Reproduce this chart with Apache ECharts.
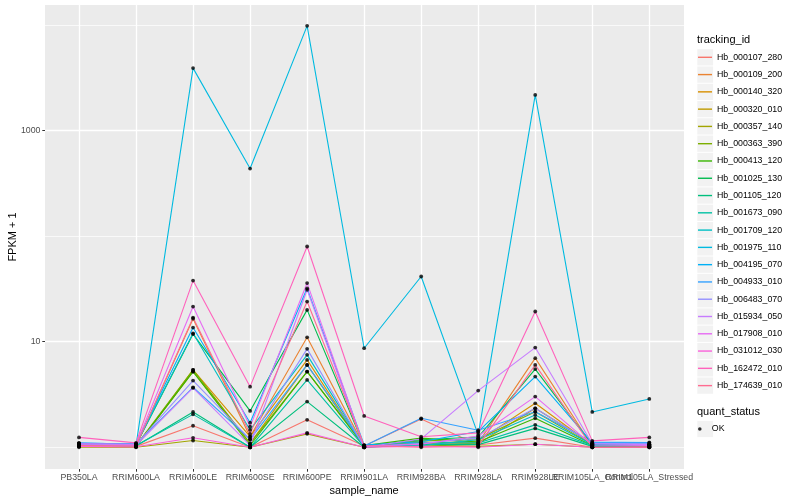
<!DOCTYPE html>
<html><head><meta charset="utf-8">
<script src="https://cdn.jsdelivr.net/npm/echarts@6/dist/echarts.min.js"></script>
<style>html,body{margin:0;padding:0;background:#fff}#c{width:800px;height:500px}</style>
</head><body><div id="c"></div>
<script>
// ---- data (FPKM + 1) ----
const categories = ['PB350LA','RRIM600LA','RRIM600LE','RRIM600SE','RRIM600PE','RRIM901LA','RRIM928BA','RRIM928LA','RRIM928LE','RRIM105LA_Control','RRIM105LA_Stressed'];
const Hb_000107_280 = [1.03, 1.02, 1.60, 1.00, 1.82, 1.03, 1.85, 1.05, 1.22, 1.00, 1.00];
const Hb_000109_200 = [1.05, 1.03, 16.5, 1.26, 11.0, 1.02, 1.10, 1.10, 6.98, 1.03, 1.02];
const Hb_000140_320 = [1.02, 1.01, 5.41, 1.26, 6.72, 1.00, 1.08, 1.15, 2.61, 1.05, 1.03];
const Hb_000320_010 = [1.04, 1.02, 5.21, 1.09, 6.03, 1.01, 1.12, 1.08, 2.34, 1.08, 1.06];
const Hb_000357_140 = [1.00, 1.00, 1.16, 1.00, 1.34, 1.00, 1.05, 1.02, 1.07, 1.00, 1.00];
const Hb_000363_390 = [1.06, 1.04, 5.41, 1.09, 5.21, 1.02, 1.15, 1.20, 2.17, 1.06, 1.05];
const Hb_000413_120 = [1.03, 1.02, 5.21, 1.04, 5.21, 1.04, 1.22, 1.12, 1.88, 1.04, 1.04];
const Hb_001025_130 = [1.08, 1.05, 11.8, 2.21, 20.0, 1.03, 1.18, 1.25, 5.50, 1.05, 1.03];
const Hb_001105_120 = [1.04, 1.03, 2.16, 1.00, 2.71, 1.00, 1.06, 1.06, 1.51, 1.02, 1.02];
const Hb_001673_090 = [1.06, 1.04, 2.05, 1.00, 4.34, 1.01, 1.10, 1.10, 1.63, 1.04, 1.05];
const Hb_001709_120 = [1.07, 1.06, 12.0, 1.46, 7.50, 1.02, 1.04, 1.18, 2.02, 1.06, 1.07];
const Hb_001975_110 = [1.08, 1.05, 3894, 436, 9790, 8.67, 41.4, 1.31, 2170, 2.16, 2.87];
const Hb_004195_070 = [1.09, 1.08, 13.6, 1.71, 32.0, 1.05, 1.13, 1.41, 4.67, 1.10, 1.10];
const Hb_004933_010 = [1.10, 1.07, 3.70, 1.19, 6.03, 1.03, 1.88, 1.45, 2.17, 1.12, 1.11];
const Hb_006483_070 = [1.07, 1.06, 4.28, 1.19, 8.55, 1.01, 1.09, 1.22, 2.34, 1.09, 1.08];
const Hb_015934_050 = [1.05, 1.04, 3.65, 1.04, 31.0, 1.00, 1.20, 3.44, 8.79, 1.08, 1.06];
const Hb_017908_010 = [1.08, 1.07, 21.5, 1.57, 35.9, 1.02, 1.07, 1.28, 3.02, 1.05, 1.04];
const Hb_031012_030 = [1.02, 1.01, 1.23, 1.00, 1.37, 1.00, 1.02, 1.00, 1.07, 1.00, 1.00];
const Hb_162472_010 = [1.24, 1.10, 37.9, 3.75, 79.7, 1.98, 1.26, 1.37, 19.3, 1.15, 1.24];
const Hb_174639_010 = [1.04, 1.03, 16.9, 1.34, 24.0, 1.04, 1.00, 1.03, 6.03, 1.00, 1.01];

const seriesNames = ['Hb_000107_280','Hb_000109_200','Hb_000140_320','Hb_000320_010','Hb_000357_140','Hb_000363_390','Hb_000413_120','Hb_001025_130','Hb_001105_120','Hb_001673_090','Hb_001709_120','Hb_001975_110','Hb_004195_070','Hb_004933_010','Hb_006483_070','Hb_015934_050','Hb_017908_010','Hb_031012_030','Hb_162472_010','Hb_174639_010'];
const seriesValues = [Hb_000107_280,Hb_000109_200,Hb_000140_320,Hb_000320_010,Hb_000357_140,Hb_000363_390,Hb_000413_120,Hb_001025_130,Hb_001105_120,Hb_001673_090,Hb_001709_120,Hb_001975_110,Hb_004195_070,Hb_004933_010,Hb_006483_070,Hb_015934_050,Hb_017908_010,Hb_031012_030,Hb_162472_010,Hb_174639_010];
const quantStatus = ['OK'];
const yMajorTicks = [10, 1000];
const yMinorTicks = [1, 100, 10000];

// ---- styles ----
const palette = ['#F8766D','#EA8331','#D89000','#C09B00','#A3A500','#7CAE00','#39B600','#00BB4E','#00BF7D','#00C1A3','#00BFC4','#00BAE0','#00B0F6','#35A2FF','#9590FF','#C77CFF','#E76BF3','#FA62DB','#FF62BC','#FF6C91'];
const FONT = '"Liberation Sans", Arial, Helvetica, sans-serif';
const yMin = 0.6228, yMax = 15420;
const panel = {left: 45, right: 684, top: 5, bottom: 469};
const catFirst = 79, catLast = 649.3;
const keyStep = 17.28, key0 = 57.3;

const chart = echarts.init(document.getElementById('c'));

const lineSeries = seriesNames.map((n, s) => ({
  name: n, type: 'line', xAxisIndex: 1, yAxisIndex: 2,
  data: seriesValues[s], showSymbol: false, symbol: 'none',
  lineStyle: {width: 1.1, color: palette[s]}, itemStyle: {color: palette[s]},
  animation: false, z: 2
}));
const pointData = [];
seriesValues.forEach(arr => arr.forEach((v, i) => pointData.push([categories[i], v])));

const keyRects = [];
for (let i = 0; i < seriesNames.length; i++) {
  keyRects.push({type: 'rect', z: 0, silent: true,
    shape: {x: 697.3, y: key0 - keyStep / 2 + i * keyStep + 0.5, width: 15.8, height: keyStep - 1},
    style: {fill: '#F2F2F2'}});
}
keyRects.push({type: 'rect', z: 0, silent: true,
  shape: {x: 697.3, y: 429 - keyStep / 2 + 0.5, width: 15.8, height: keyStep - 1},
  style: {fill: '#F2F2F2'}});

const option = {
  animation: false,
  backgroundColor: '#FFFFFF',
  title: [
    {text: 'tracking_id', left: 697, top: 34, padding: 0, textStyle: {fontFamily: FONT, fontSize: 11, fontWeight: 'normal', color: '#000'}},
    {text: 'quant_status', left: 697, top: 406, padding: 0, textStyle: {fontFamily: FONT, fontSize: 11, fontWeight: 'normal', color: '#000'}}
  ],
  graphic: keyRects,
  legend: [
    {data: seriesNames, orient: 'vertical', left: 698, top: key0 - keyStep / 2, padding: 0,
     itemWidth: 14, itemHeight: 1.4, itemGap: 0, icon: 'rect', selectedMode: false, z: 5,
     textStyle: {fontFamily: FONT, fontSize: 8.8, color: '#000', lineHeight: keyStep}},
    {data: quantStatus, orient: 'vertical', left: 698, top: 429 - keyStep / 2, padding: 0,
     itemWidth: 14, itemHeight: 3.6, itemGap: 0, icon: 'circle', selectedMode: false, z: 5,
     textStyle: {fontFamily: FONT, fontSize: 8.8, color: '#000', lineHeight: keyStep}}
  ],
  grid: [
    {left: panel.left, right: 800 - panel.right, top: panel.top, bottom: 500 - panel.bottom,
     show: true, backgroundColor: '#EBEBEB', borderWidth: 0, containLabel: false, outerBoundsMode: 'none'},
    {left: catFirst, right: 800 - catLast, top: panel.top, bottom: 500 - panel.bottom,
     containLabel: false, outerBoundsMode: 'none'}
  ],
  xAxis: [
    {gridIndex: 0, type: 'value', min: 0, max: 1, show: false},
    {gridIndex: 1, type: 'category', data: categories, boundaryGap: false,
     name: 'sample_name', nameLocation: 'middle', nameGap: 16, nameMoveOverlap: false,
     nameTextStyle: {fontFamily: FONT, fontSize: 11, color: '#000'},
     axisLine: {show: false},
     axisTick: {show: true, length: 2.7, lineStyle: {color: '#333333', width: 1}},
     axisLabel: {fontFamily: FONT, fontSize: 8.8, color: '#4D4D4D', margin: 4, interval: 0},
     splitLine: {show: true, lineStyle: {color: '#FFFFFF', width: 1.3}}}
  ],
  yAxis: [
    {gridIndex: 0, type: 'log', logBase: 10, min: yMin, max: yMax, position: 'left',
     axisLine: {show: false}, axisLabel: {show: false},
     axisTick: {show: false, customValues: yMinorTicks},
     splitLine: {show: true, lineStyle: {color: '#FFFFFF', width: 0.7}}},
    {gridIndex: 0, type: 'log', logBase: 10, min: yMin, max: yMax, position: 'left', offset: 0,
     name: 'FPKM + 1', nameLocation: 'middle', nameGap: 26.5, nameMoveOverlap: false,
     nameTextStyle: {fontFamily: FONT, fontSize: 11, color: '#000'},
     axisLine: {show: false},
     axisTick: {show: true, length: 2.7, customValues: yMajorTicks, lineStyle: {color: '#333333', width: 1}},
     axisLabel: {customValues: yMajorTicks, fontFamily: FONT, fontSize: 8.8, color: '#4D4D4D', margin: 4.5,
                 formatter: v => String(Math.round(v))},
     splitLine: {show: true, lineStyle: {color: '#FFFFFF', width: 1.3}}},
    {gridIndex: 1, type: 'log', logBase: 10, min: yMin, max: yMax, show: false, position: 'left',
     splitLine: {show: false}}
  ],
  series: lineSeries.concat([{
    name: 'OK', type: 'scatter', xAxisIndex: 1, yAxisIndex: 2,
    data: pointData, symbol: 'circle', symbolSize: 3.8,
    itemStyle: {color: '#000000'}, z: 3, animation: false
  }])
};
chart.setOption(option);
</script>
</body></html>
